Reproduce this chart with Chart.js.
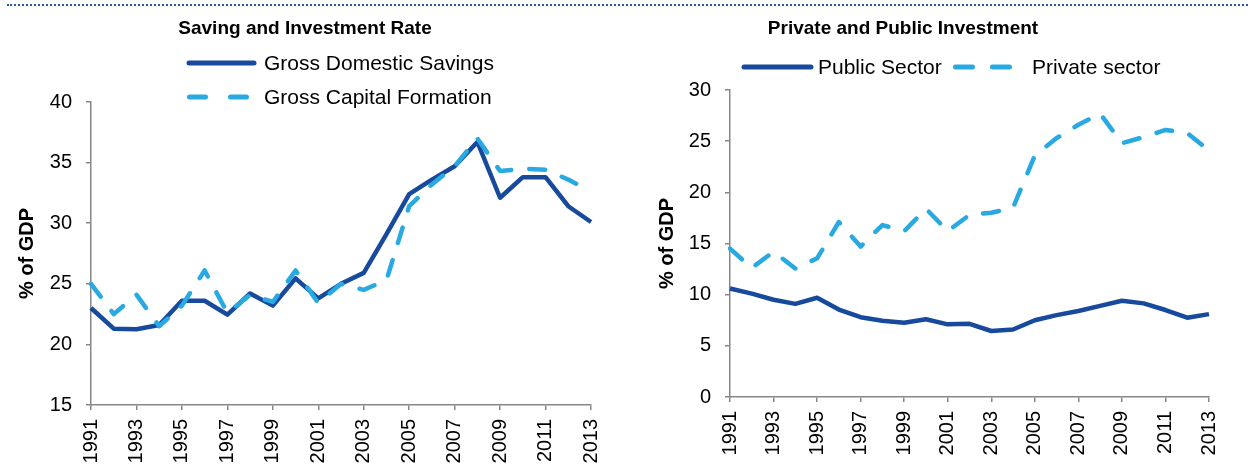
<!DOCTYPE html>
<html>
<head>
<meta charset="utf-8">
<script src="https://cdn.jsdelivr.net/npm/chart.js@4.4.1/dist/chart.umd.min.js"></script>
<style>
  html, body { margin: 0; padding: 0; background: #fff; }
  body { width: 1248px; height: 469px; position: relative; overflow: hidden; }
  #rule { position: absolute; left: 7px; right: 0; top: 4px; border-top: 2px dotted #2a5aa8; }
  #left { position: absolute; left: 0; top: 0; }
  #right { position: absolute; left: 630px; top: 0; }
</style>
</head>
<body>
<div id="rule"></div>
<canvas id="left" width="620" height="469"></canvas>
<canvas id="right" width="618" height="469"></canvas>
<script>
// Years shared by both panels
const years = ['1991', '1992', '1993', '1994', '1995', '1996', '1997', '1998', '1999', '2000', '2001', '2002',
  '2003', '2004', '2005', '2006', '2007', '2008', '2009', '2010', '2011', '2012', '2013'];

// Saving and Investment Rate (% of GDP)
const grossSavings = [23.0, 21.3, 21.25, 21.6, 23.6, 23.6, 22.45, 24.2, 23.2, 25.45, 23.8, 25.0,
  25.9, 29.1, 32.4, 33.6, 34.7, 36.7, 32.1, 33.8, 33.8, 31.4, 30.1];
const grossCapital = [25.0, 22.5, 24.1, 21.5, 23.2, 26.1, 22.6, 24.1, 23.5, 26.1, 23.4, 25.0,
  24.5, 25.3, 31.4, 33.2, 34.7, 37.0, 34.3, 34.5, 34.4, 33.6, 32.6];

// Private and Public Investment (% of GDP)
const publicSector = [10.6, 10.1, 9.5, 9.1, 9.7, 8.55, 7.8, 7.45, 7.25, 7.6, 7.1, 7.15,
  6.45, 6.6, 7.5, 8.0, 8.4, 8.9, 9.4, 9.15, 8.5, 7.75, 8.1];
const privateSector = [14.5, 12.6, 14.2, 12.55, 13.55, 17.1, 14.7, 16.8, 16.2, 18.4, 16.2, 17.8,
  18.0, 18.5, 23.6, 25.3, 26.6, 27.7, 24.8, 25.4, 26.1, 25.8, 24.1];

const DARK = '#174a9c';
const LIGHT = '#29a9e1';
const AXIS = '#878787';
const FONT = "'Liberation Sans', Arial, sans-serif";

// chart title and legend drawn on the canvas, styled from the datasets
const headings = {
  id: 'headings',
  afterDraw(chart, args, opts) {
    const ctx = chart.ctx;
    ctx.save();
    ctx.fillStyle = '#000';
    ctx.textBaseline = 'middle';
    ctx.textAlign = 'center';
    ctx.font = 'bold 19px ' + FONT;
    ctx.fillText(opts.title, opts.titleX, opts.titleY);
    ctx.font = '21px ' + FONT;
    ctx.textAlign = 'left';
    opts.items.forEach(item => {
      const ds = chart.data.datasets[item.dataset];
      ctx.strokeStyle = ds.borderColor;
      ctx.lineWidth = 5;
      ctx.lineCap = 'round';
      ctx.setLineDash(item.dash || []);
      ctx.beginPath();
      ctx.moveTo(item.x0, item.y);
      ctx.lineTo(item.x1, item.y);
      ctx.stroke();
      ctx.setLineDash([]);
      ctx.fillText(ds.label, item.tx, item.y + 1);
    });
    ctx.restore();
  }
};

function axes(min, max, yWidth, xHeight, titlePad) {
  return {
    x: {
      type: 'category',
      offset: false,
      afterFit(scale) {
        scale.height = xHeight;
        scale.paddingLeft = 0;
        scale.paddingRight = 0;
      },
      border: { color: AXIS, width: 1.5 },
      grid: {
        drawOnChartArea: false,
        tickLength: 5,
        lineWidth: 1.5,
        tickColor: c => (c.index % 2 === 0 ? AXIS : 'rgba(0,0,0,0)')
      },
      ticks: {
        autoSkip: false,
        minRotation: 90,
        maxRotation: 90,
        padding: 9,
        color: '#000',
        font: { family: FONT, size: 20 },
        callback(value, index) { return index % 2 === 0 ? this.getLabelForValue(value) : ''; }
      }
    },
    y: {
      min, max,
      afterFit(scale) { scale.width = yWidth; },
      border: { color: AXIS, width: 1.5 },
      grid: { drawOnChartArea: false, tickLength: 5, lineWidth: 1.5, color: AXIS },
      ticks: { stepSize: 5, padding: 14, color: '#000', font: { family: FONT, size: 20 } },
      title: {
        display: true,
        text: '% of GDP',
        color: '#000',
        padding: { top: titlePad, bottom: 0 },
        font: { family: FONT, size: 20, weight: 'bold' }
      }
    }
  };
}

function line(label, data, color, dashed, order) {
  return {
    label, data, order,
    borderColor: color,
    backgroundColor: color,
    borderWidth: 4.5,
    borderDash: dashed ? [16, 18] : [],
    borderCapStyle: dashed ? 'round' : 'butt',
    borderJoinStyle: 'round',
    pointRadius: 0,
    tension: 0,
    fill: false
  };
}

new Chart(document.getElementById('left'), {
  type: 'line',
  data: {
    labels: years,
    datasets: [
      line('Gross Domestic Savings', grossSavings, DARK, false, 1),
      line('Gross Capital Formation', grossCapital, LIGHT, true, 0)
    ]
  },
  options: {
    responsive: false,
    animation: false,
    devicePixelRatio: 1,
    layout: { padding: { top: 102, right: 29, left: 0, bottom: 0 } },
    scales: axes(15, 40, 91, 64, 15),
    plugins: {
      legend: { display: false },
      tooltip: { enabled: false },
      headings: {
        title: 'Saving and Investment Rate', titleX: 305, titleY: 29,
        items: [
          { dataset: 0, x0: 189, x1: 254, y: 63, tx: 264 },
          { dataset: 1, x0: 189.5, x1: 247.5, y: 97, tx: 264, dash: [16, 25] }
        ]
      }
    }
  },
  plugins: [headings]
});

new Chart(document.getElementById('right'), {
  type: 'line',
  data: {
    labels: years,
    datasets: [
      line('Public Sector', publicSector, DARK, false, 1),
      line('Private sector', privateSector, LIGHT, true, 0)
    ]
  },
  options: {
    responsive: false,
    animation: false,
    devicePixelRatio: 1,
    layout: { padding: { top: 90, right: 39, left: 0, bottom: 0 } },
    scales: axes(0, 30, 100, 72, 25),
    plugins: {
      legend: { display: false },
      tooltip: { enabled: false },
      headings: {
        title: 'Private and Public Investment', titleX: 273, titleY: 29,
        items: [
          { dataset: 0, x0: 114, x1: 181, y: 67, tx: 188 },
          { dataset: 1, x0: 325.5, x1: 379.5, y: 67, tx: 402, dash: [17, 20] }
        ]
      }
    }
  },
  plugins: [headings]
});
</script>
</body>
</html>
